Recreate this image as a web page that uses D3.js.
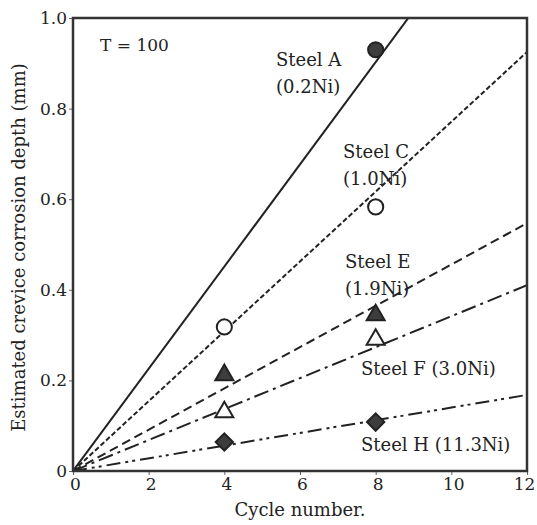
<!DOCTYPE html>
<html>
<head>
<meta charset="utf-8">
<script src="https://cdn.jsdelivr.net/npm/d3@7"></script>
<style>
  body { margin: 0; background: #fff; }
  svg text { font-family: "DejaVu Serif", serif; fill: #222; }
</style>
</head>
<body>
<svg id="chart" width="537" height="525"></svg>
<script>
// steels and their nickel content
var steels = ["Steel A", "Steel C", "Steel E", "Steel F", "Steel H"];
var nickel = ["(0.2Ni)", "(1.0Ni)", "(1.9Ni)", "(3.0Ni)", "(11.3Ni)"];
// fitted line value at 12 cycles (lines go through the origin)
var fitAt12 = [1.354, 0.925, 0.547, 0.41, 0.168];
// measured points
var ptCycle = [[8], [4, 8], [4, 8], [4, 8], [4, 8]];
var ptDepth = [[0.93], [0.318, 0.583], [0.212, 0.344], [0.13, 0.29], [0.064, 0.108]];
var xTicks = [0, 2, 4, 6, 8, 10, 12];
var yTicks = [0, 0.2, 0.4, 0.6, 0.8, 1.0];

var svg = d3.select("#chart");
var pL = 73, pR = 527, pT = 18, pB = 471;

var x = d3.scaleLinear().domain([0, 12]).range([pL, pR]);
var y = d3.scaleLinear().domain([0, 1]).range([pB, pT]);

var dashes = [null, "5,2.5", "9,5", "15,5,3,5", "14,5,3,4,3,5"];
var marker = ["circle", "circle", "triangle", "triangle", "diamond"];
var filled = [true, false, true, false, true];

svg.append("clipPath").attr("id", "clip")
  .append("rect").attr("x", pL).attr("y", pT)
  .attr("width", pR - pL).attr("height", pB - pT);

/// fit lines
svg.append("g").attr("clip-path", "url(#clip)")
  .selectAll("line").data(fitAt12).enter().append("line")
  .attr("x1", x(0)).attr("y1", y(0))
  .attr("x2", x(12)).attr("y2", d => y(d))
  .attr("stroke", "#222").attr("stroke-width", 2)
  .attr("stroke-dasharray", (d, i) => dashes[i]);

/// markers
var sym = {
  circle: d3.symbol().type(d3.symbolCircle).size(180),
  triangle: d3.symbol().type(d3.symbolTriangle).size(140),
  diamond: d3.symbol().type(d3.symbolSquare).size(150)
};
steels.forEach(function (s, i) {
  svg.append("g").selectAll("path")
    .data(ptCycle[i]).enter().append("path")
    .attr("d", sym[marker[i]])
    .attr("transform", (d, j) => "translate(" + x(d) + "," + y(ptDepth[i][j]) + ")" +
      (marker[i] == "diamond" ? " rotate(45)" : ""))
    .attr("fill", filled[i] ? "#3d3d3d" : "#fff")
    .attr("stroke", "#222").attr("stroke-width", 2);
});

/// axes
var xAxis = svg.append("g").attr("transform", "translate(0," + pB + ")")
  .call(d3.axisBottom(x).tickValues(xTicks).tickSize(4).tickPadding(3).tickFormat(d3.format("d")));
var yAxis = svg.append("g").attr("transform", "translate(" + pL + ",0)")
  .call(d3.axisLeft(y).tickValues(yTicks).tickSize(4).tickPadding(2)
    .tickFormat(d => d == 0 ? "0" : d3.format(".1f")(d)));
[xAxis, yAxis].forEach(function (a) {
  a.attr("font-family", null);
  a.select(".domain").remove();
  a.selectAll("line").attr("stroke", "#666");
  a.selectAll("text").attr("font-size", 17).attr("fill", "#222");
});
xAxis.selectAll("text").attr("dx", d => d == 12 ? -3 : 2);

/// frame
svg.append("rect").attr("x", pL).attr("y", pT)
  .attr("width", pR - pL).attr("height", pB - pT)
  .attr("fill", "none").attr("stroke", "#333").attr("stroke-width", 2.5);

/// labels
var labPos = [[276, 66], [343, 158], [345, 268], [361, 375], [361, 451]];
var twoLines = [true, true, true, false, false];
steels.forEach(function (s, i) {
  var t = svg.append("text").attr("x", labPos[i][0]).attr("y", labPos[i][1])
    .attr("font-size", 18);
  if (twoLines[i]) {
    t.append("tspan").text(s);
    t.append("tspan").attr("x", labPos[i][0]).attr("dy", 27).text(nickel[i]);
  } else {
    t.text(s + " " + nickel[i]);
  }
});
svg.append("text").attr("x", 100).attr("y", 51).attr("font-size", 17).text("T = 100");

svg.append("text").attr("x", 300).attr("y", 516)
  .attr("text-anchor", "middle").attr("font-size", 18).text("Cycle number.");
svg.append("text").attr("transform", "translate(25," + ((pT + pB) / 2 + 3) + ") rotate(-90)")
  .attr("text-anchor", "middle").attr("font-size", 18)
  .text("Estimated crevice corrosion depth (mm)");
</script>
</body>
</html>
